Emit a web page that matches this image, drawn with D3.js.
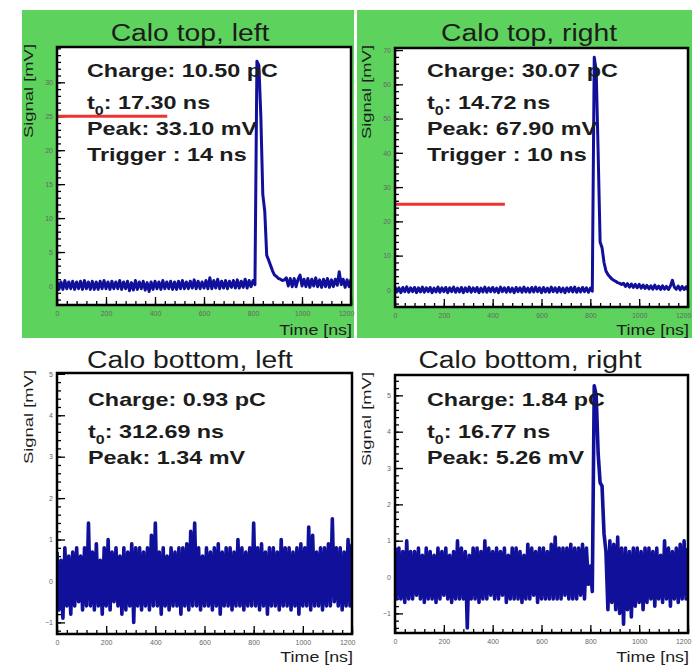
<!DOCTYPE html>
<html><head><meta charset="utf-8">
<script src="https://cdn.jsdelivr.net/npm/d3@7"></script>
<style>
html,body{margin:0;padding:0;background:#fff;}
svg{display:block;font-family:"Liberation Sans",Arial,Helvetica,sans-serif;}
</style></head>
<body>
<script>
// ---------------- DATA ----------------
const timeStepNs = 8;                       // sampling grid of the traces (ns)
const xTicks = [0, 200, 400, 600, 800, 1000, 1200];
const xMinorStep = 40;

const panelTitles = ["Calo top, left", "Calo top, right", "Calo bottom, left", "Calo bottom, right"];
const charges  = ["10.50", "30.07", "0.93", "1.84"];
const t0s      = ["17.30", "14.72", "312.69", "16.77"];
const peaks    = ["33.10", "67.90", "1.34", "5.26"];
const triggers = ["14", "10", null, null];

const yDomainTL = [-2.8, 35.2], yTicksTL = [0, 5, 10, 15, 20, 25, 30], yMinorTL = 1;
const yDomainTR = [-5.0, 70.6], yTicksTR = [0, 10, 20, 30, 40, 50, 60, 70], yMinorTR = 2;
const yDomainBL = [-1.28, 5.02], yTicksBL = [-1, 0, 1, 2, 3, 4, 5], yMinorBL = 0.2;
const yDomainBR = [-1.54, 5.56], yTicksBR = [-1, 0, 1, 2, 3, 4, 5], yMinorBR = 0.2;

const thresholdLevel = [25, 25, null, null];   // mV
const thresholdEndNs = [450, 450, null, null]; // ns

// signal traces in mV, one value per 8 ns from 0 to 1200 ns
const traceTopLeft = [
 0.7,-0.5,0.6,-0.5,0.8,-0.4,0.6,-0.4,0.7,-0.5,
 0.6,-0.4,0.7,-0.5,0.8,-0.4,0.6,-0.5,0.7,-0.5,
 0.6,-0.5,0.7,-0.4,0.8,-0.4,0.6,-0.5,0.7,-0.4,
 0.6,-0.4,0.8,-0.5,0.6,-0.4,0.7,-0.7,0.5,-0.6,
 0.8,-0.5,0.6,-0.4,0.7,-0.6,0.5,-0.8,0.6,-0.5,
 0.7,-0.4,0.6,-0.5,0.8,-0.4,0.6,-0.4,0.7,-0.5,
 0.6,-0.5,0.7,-0.4,0.8,-0.4,0.6,-0.4,0.7,-0.3,
 0.9,-0.4,0.7,-0.4,0.6,-0.3,0.8,-0.4,1.2,-0.4,
 0.8,-0.3,1.0,-0.4,0.7,-0.3,0.8,-0.4,0.7,-0.2,
 0.8,-0.3,0.9,-0.3,0.7,-0.2,1.0,-0.3,0.8,-0.1,
 0.8,0.2,
 33.1,32.5,25.0,13.5,11.0,4.5,3.8,3.0,2.2,1.6,1.4,1.1,1.0,0.8,0.9,
 1.2,0.0,1.1,-0.1,1.1,-0.1,1.0,1.6,0.0,1.0,
 -0.1,1.1,-0.2,1.0,0.0,1.2,-0.1,0.9,-0.2,1.0,
 -0.1,1.1,-0.2,0.9,-0.1,1.0,0.1,2.1,0.2,1.0,
 -0.2,0.9,-0.1,1.0
];
const traceTopRight = [
 0.8,-0.6,0.6,-0.8,0.7,-0.5,0.9,-0.7,0.6,-0.5,
 0.7,-0.8,0.6,-0.6,0.8,-0.7,0.6,-0.5,0.7,-0.8,
 0.5,-0.6,0.8,-0.7,0.6,-0.5,0.7,-0.8,0.6,-0.5,
 0.8,-0.7,0.5,-0.6,0.7,-0.8,0.6,-0.5,0.8,-0.7,
 0.6,-0.5,0.7,-0.8,0.5,-0.6,0.8,-0.7,0.6,-0.5,
 0.7,-0.6,0.5,-0.8,0.8,-0.5,0.6,-0.7,0.7,-0.6,
 0.5,-0.8,0.7,-0.5,0.6,-0.7,0.8,-0.6,0.5,-0.7,
 0.7,-0.6,0.8,-0.5,0.6,-0.8,0.7,-0.6,0.5,-0.7,
 0.8,-0.5,0.6,-0.7,0.7,-0.6,0.5,-0.8,0.6,-0.5,
 0.7,-0.6,0.8,-0.7,0.5,-0.6,0.7,-0.5,0.6,-0.7,
 0.5,-0.4,
 67.9,64.0,40.0,14.0,12.3,8.0,5.5,4.5,3.8,3.2,2.8,2.5,2.1,1.9,1.6,
 1.9,1.0,1.8,0.8,1.7,0.7,1.6,0.6,1.6,0.5,
 1.4,0.4,1.3,0.3,1.2,0.2,1.4,0.3,1.1,0.1,
 1.2,0.2,1.0,0.1,1.1,2.8,0.8,0.2,1.1,0.0,
 1.0,0.1,0.9,0.0
];
const traceBottomLeft = [
 0.7,-0.7,0.5,-0.9,0.8,-0.6,0.6,-0.8,0.7,-0.6,
 0.8,-0.5,0.6,-0.7,0.8,-0.6,1.4,-0.6,0.7,-0.7,
 0.9,-0.6,0.5,-0.8,0.8,-0.6,1.0,-0.7,0.7,-0.5,
 0.8,-0.6,0.6,-0.8,0.8,-0.7,0.7,-0.6,0.9,-1.0,
 0.8,-0.6,0.8,-0.7,0.7,-0.6,0.8,-0.7,1.1,-0.6,
 1.4,-0.6,0.7,-0.8,0.8,-0.6,0.6,-0.7,0.8,-0.6,
 0.7,-0.6,0.8,-0.8,0.8,-0.6,0.9,-0.7,1.2,-0.6,
 1.4,-0.6,0.8,-0.7,0.6,-0.6,0.8,-0.6,0.7,-0.7,
 0.8,-0.6,0.9,-0.8,0.7,-0.6,0.8,-0.6,0.8,-0.7,
 0.7,-0.6,1.0,-0.6,0.8,-0.7,0.7,-0.6,0.8,-0.6,
 1.4,-0.6,0.8,-0.7,0.9,-0.6,0.7,-0.8,0.8,-0.6,
 0.8,-0.6,0.7,-0.7,1.0,-0.6,0.8,-0.6,0.8,-0.7,
 0.7,-0.6,0.8,-0.8,0.9,-0.6,0.8,-0.6,1.3,-0.7,
 1.1,-0.6,0.7,-0.6,0.8,-0.7,0.8,-0.6,0.9,-0.6,
 1.5,-0.5,0.8,-0.6,0.8,-0.7,0.7,-0.6,1.0,-0.6,
 0.9
];
const traceBottomRight = [
 0.8,-0.6,0.8,-0.6,0.7,-0.7,1.0,-0.6,0.7,-0.6,
 0.7,-0.5,0.8,-0.6,0.6,-0.7,0.8,-0.6,0.7,-0.6,
 0.6,-0.7,0.8,-0.6,0.7,-0.5,0.8,-0.6,0.6,-0.7,
 0.7,-0.6,1.0,-0.6,0.8,-0.6,0.7,-1.4,0.6,-0.6,
 0.8,-0.6,0.8,-0.7,0.7,-0.6,1.0,-0.6,0.8,-0.5,
 0.7,-0.6,0.8,-0.6,0.7,-0.5,0.8,-0.7,0.6,-0.6,
 0.8,-0.6,0.8,-0.6,0.7,-0.7,0.6,-0.6,0.9,-0.6,
 0.8,-0.5,0.7,-0.7,0.8,-0.6,0.8,-0.6,0.7,-0.6,
 0.9,-0.6,1.1,-0.6,0.8,-0.6,0.8,-0.5,0.8,-0.6,
 0.9,-0.6,0.8,-0.6,0.8,-0.5,0.9,-0.6,0.8,-0.2,
 0.3,-0.4,
 5.26,5.0,3.4,2.6,2.5,1.2,0.7,-0.9,1.0,-0.7,
 0.9,-0.9,1.1,-1.0,0.8,-1.3,0.8,-0.9,0.7,-1.1,
 0.8,-0.8,0.8,-0.7,0.7,-0.9,0.8,-0.7,0.8,-0.6,
 0.7,-0.8,0.8,-0.6,0.6,-0.7,1.0,-0.6,0.8,-0.8,
 0.7,-0.6,0.8,-0.7,0.9,-0.6,1.0,-0.6,0.8
];

// ---------------- LAYOUT / STYLE ----------------
const W = 692, H = 665;
const STRETCH = 1.23;          // horizontal text stretch of the original screenshot
const GREEN = "#5dd35d", BLUE = "#10109a", RED = "#ee3333", INK = "#1c1c1c";

const panels = [
 {trace: traceTopLeft, yDomain: yDomainTL, yTicks: yTicksTL, yMinor: yMinorTL, lw: 3.0,
  bg: [22, 10, 354, 338], frame: [57, 47, 351, 305], titleX: 190, titleY: 41, statsX: 87, statsY: 77, timeY: 335},
 {trace: traceTopRight, yDomain: yDomainTR, yTicks: yTicksTR, yMinor: yMinorTR, lw: 3.0,
  bg: [357, 10, 692, 338], frame: [395, 48, 688, 307], titleX: 529, titleY: 41, statsX: 427, statsY: 77, timeY: 335},
 {trace: traceBottomLeft, yDomain: yDomainBL, yTicks: yTicksBL, yMinor: yMinorBL, lw: 3.6,
  bg: null, frame: [57, 373, 352, 634], titleX: 190, titleY: 368, statsX: 88, statsY: 406, timeY: 662},
 {trace: traceBottomRight, yDomain: yDomainBR, yTicks: yTicksBR, yMinor: yMinorBR, lw: 3.6,
  bg: null, frame: [395, 375, 688, 633], titleX: 530, titleY: 368, statsX: 427, statsY: 406, timeY: 662}
];

const svg = d3.select("body").append("svg").attr("width", W).attr("height", H);
svg.append("rect").attr("width", W).attr("height", H).attr("fill", "#fff");

function stretchedText(g, x, y, str, size, weight, anchor) {
  const t = g.append("text")
    .attr("transform", `translate(${x},${y}) scale(${STRETCH},1)`)
    .attr("font-size", size).attr("font-weight", weight || "normal")
    .attr("fill", INK).attr("text-anchor", anchor || "start");
  if (str !== null) t.text(str);
  return t;
}

panels.forEach((p, k) => {
  const g = svg.append("g");
  const [fx0, fy0, fx1, fy1] = p.frame;
  if (p.bg) {
    g.append("rect").attr("x", p.bg[0]).attr("y", p.bg[1])
      .attr("width", p.bg[2] - p.bg[0]).attr("height", p.bg[3] - p.bg[1]).attr("fill", GREEN);
  }
  g.append("rect").attr("x", fx0).attr("y", fy0).attr("width", fx1 - fx0).attr("height", fy1 - fy0).attr("fill", "#fff");

  const x = d3.scaleLinear().domain([0, 1200]).range([fx0, fx1]);
  const y = d3.scaleLinear().domain(p.yDomain).range([fy1, fy0]);

  const cid = "clip" + k;
  svg.append("clipPath").attr("id", cid).append("rect")
    .attr("x", fx0).attr("y", fy0).attr("width", fx1 - fx0).attr("height", fy1 - fy0);

  const yMinorVals = d3.range(Math.ceil(p.yDomain[0] / p.yMinor), Math.floor(p.yDomain[1] / p.yMinor) + 1)
    .map(v => +(v * p.yMinor).toFixed(3));
  const xMinorVals = d3.range(0, 1201, xMinorStep);

  const styleAxis = sel => {
    sel.select(".domain").remove();
    sel.selectAll("line").attr("stroke", "#000").attr("stroke-width", 1.3);
    sel.selectAll("text").attr("fill", "#666").attr("font-size", 7)
      .attr("font-family", "\"Liberation Sans\",Arial,sans-serif");
  };

  g.append("g").attr("transform", `translate(${fx0},0)`)
    .call(d3.axisLeft(y).tickValues(yMinorVals).tickSize(-4).tickFormat("")).call(styleAxis);
  g.append("g").attr("transform", `translate(${fx0},0)`)
    .call(d3.axisLeft(y).tickValues(p.yTicks).tickSize(-8).tickPadding(4).tickFormat(d3.format("d"))).call(styleAxis);
  g.append("g").attr("transform", `translate(0,${fy1})`)
    .call(d3.axisBottom(x).tickValues(xMinorVals).tickSize(-4).tickFormat("")).call(styleAxis);
  const xa = g.append("g").attr("transform", `translate(0,${fy1})`)
    .call(d3.axisBottom(x).tickValues(xTicks).tickSize(-8).tickPadding(6).tickFormat(d3.format("d"))).call(styleAxis);
  xa.selectAll("text").filter(d => d === xTicks[xTicks.length - 1]).attr("text-anchor", "end").attr("dx", 3);

  const line = d3.line().x((d, i) => x(i * timeStepNs)).y(d => y(d));
  g.append("path").datum(p.trace).attr("clip-path", `url(#${cid})`)
    .attr("d", line).attr("fill", "none").attr("stroke", BLUE)
    .attr("stroke-width", p.lw).attr("stroke-linejoin", "round");

  if (thresholdLevel[k] !== null) {
    g.append("line").attr("x1", x(0)).attr("x2", x(thresholdEndNs[k]))
      .attr("y1", y(thresholdLevel[k])).attr("y2", y(thresholdLevel[k]))
      .attr("stroke", RED).attr("stroke-width", 3);
  }

  g.append("rect").attr("x", fx0).attr("y", fy0).attr("width", fx1 - fx0).attr("height", fy1 - fy0)
    .attr("fill", "none").attr("stroke", "#000").attr("stroke-width", 2.5);

  stretchedText(g, p.titleX, p.titleY, panelTitles[k], 23, "normal", "middle");

  const sx = p.statsX, sy = p.statsY;
  stretchedText(g, sx, sy, `Charge: ${charges[k]} pC`, 19, "bold");
  const t0 = stretchedText(g, sx, sy + 31.5, null, 19, "bold");
  t0.append("tspan").text("t");
  t0.append("tspan").attr("font-size", 13).attr("dy", 6).text("0");
  t0.append("tspan").attr("dy", -6).text(`: ${t0s[k]} ns`);
  stretchedText(g, sx, sy + 58, `Peak: ${peaks[k]} mV`, 19, "bold");
  if (triggers[k] !== null) stretchedText(g, sx, sy + 84, `Trigger : ${triggers[k]} ns`, 19, "bold");

  g.append("text").attr("transform", `translate(${fx0 - 24},${fy0 - 3}) rotate(-90)`)
    .attr("text-anchor", "end").attr("font-size", 12.5).attr("fill", INK)
    .attr("textLength", 94).attr("lengthAdjust", "spacingAndGlyphs").text("Signal [mV]");
  stretchedText(g, fx1 + 1, p.timeY, "Time [ns]", 14.5, "normal", "end");
});
</script>
</body></html>
